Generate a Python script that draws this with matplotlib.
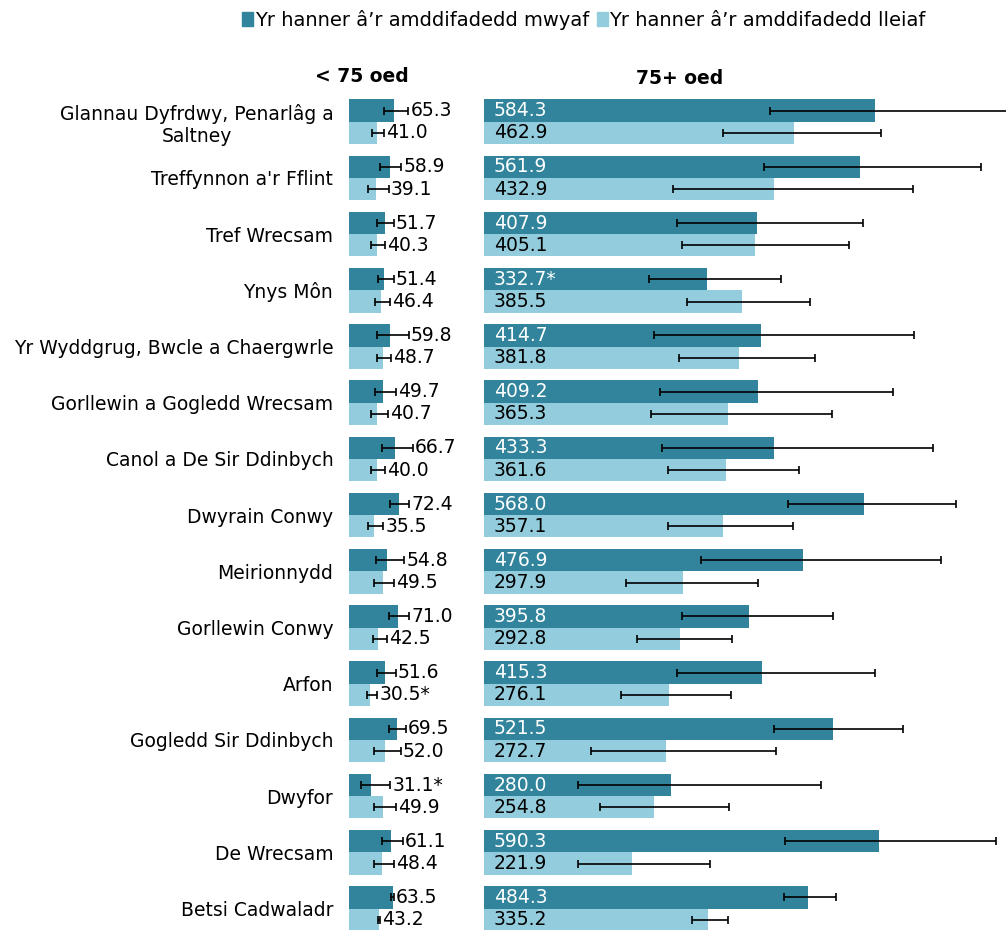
import numpy as np
import matplotlib
matplotlib.use("Agg")
import matplotlib.pyplot as plt
from matplotlib.patches import Patch

# data
areas = ["Glannau Dyfrdwy, Penarlâg a\nSaltney", "Treffynnon a'r Fflint", "Tref Wrecsam",
         "Ynys Môn", "Yr Wyddgrug, Bwcle a Chaergwrle", "Gorllewin a Gogledd Wrecsam",
         "Canol a De Sir Ddinbych", "Dwyrain Conwy", "Meirionnydd", "Gorllewin Conwy",
         "Arfon", "Gogledd Sir Ddinbych", "Dwyfor", "De Wrecsam", "Betsi Cadwaladr"]

# < 75 oed
u75_most = [65.3, 58.9, 51.7, 51.4, 59.8, 49.7, 66.7, 72.4, 54.8, 71.0, 51.6, 69.5, 31.1, 61.1, 63.5]
u75_most_lo = [51.2, 45.4, 40.0, 42.4, 40.5, 37.1, 47.4, 59.0, 38.6, 57.6, 40.0, 58.5, 16.6, 47.3, 61.5]
u75_most_hi = [86.3, 76.0, 64.9, 64.9, 86.8, 68.3, 92.7, 87.3, 80.0, 87.7, 67.8, 82.9, 59.5, 78.0, 65.5]
u75_least = [41.0, 39.1, 40.3, 46.4, 48.7, 40.7, 40.0, 35.5, 49.5, 42.5, 30.5, 52.0, 49.9, 48.4, 43.2]
u75_least_lo = [32.7, 26.9, 31.3, 37.1, 40.5, 31.3, 31.3, 26.9, 36.6, 34.2, 25.4, 36.6, 36.6, 36.6, 41.5]
u75_least_hi = [51.2, 58.0, 52.7, 60.0, 60.5, 56.6, 52.6, 49.7, 65.8, 55.1, 41.0, 75.1, 68.3, 64.9, 45.0]
u75_most_lbl = ["65.3", "58.9", "51.7", "51.4", "59.8", "49.7", "66.7", "72.4", "54.8", "71.0",
                "51.6", "69.5", "31.1*", "61.1", "63.5"]
u75_least_lbl = ["41.0", "39.1", "40.3", "46.4", "48.7", "40.7", "40.0", "35.5", "49.5", "42.5",
                 "30.5*", "52.0", "49.9", "48.4", "43.2"]

# 75+ oed
o75_most = [584.3, 561.9, 407.9, 332.7, 414.7, 409.2, 433.3, 568.0, 476.9, 395.8, 415.3, 521.5, 280.0, 590.3, 484.3]
o75_most_lo = [427.5, 418.5, 288.0, 247.1, 254.1, 263.6, 265.6, 453.9, 323.9, 295.5, 288.0, 433.5, 141.0, 450.4, 448.4]
o75_most_hi = [800.0, 742.9, 566.0, 443.5, 643.3, 611.4, 671.7, 705.5, 683.1, 522.2, 584.5, 626.3, 503.2, 765.8, 526.2]
o75_least = [462.9, 432.9, 405.1, 385.5, 381.8, 365.3, 361.6, 357.1, 297.9, 292.8, 276.1, 272.7, 254.8, 221.9, 335.2]
o75_least_lo = [357.7, 282.5, 295.5, 303.4, 292.0, 250.1, 274.5, 275.0, 212.3, 229.2, 204.8, 159.4, 172.9, 141.0, 310.9]
o75_least_hi = [593.9, 641.3, 545.0, 486.8, 494.3, 520.7, 471.4, 461.9, 409.1, 371.2, 369.2, 437.0, 365.7, 337.8, 364.3]
o75_most_lbl = ["584.3", "561.9", "407.9", "332.7*", "414.7", "409.2", "433.3", "568.0", "476.9", "395.8",
                "415.3", "521.5", "280.0", "590.3", "484.3"]
o75_least_lbl = ["462.9", "432.9", "405.1", "385.5", "381.8", "365.3", "361.6", "357.1", "297.9", "292.8",
                 "276.1", "272.7", "254.8", "221.9", "335.2"]

legend_labels = ["Yr hanner â’r amddifadedd mwyaf", "Yr hanner â’r amddifadedd lleiaf"]

dark = "#31849b"
light = "#93cddd"
fs = 13.5
plt.rcParams['font.family'] = ['DejaVu Sans']

W, H = 1006, 930
fig = plt.figure(figsize=(W / 100, H / 100), dpi=100)

ax_l = fig.add_axes([349.3 / W, 0, (480 - 349.3) / W, 837 / H])
ax_r = fig.add_axes([484 / W, 0, (W - 484) / W, 837 / H])

y = np.arange(len(areas))
h = 0.397
y_dark = y - h / 2
y_light = y + h / 2


def draw_panel(ax, most, most_lo, most_hi, least, least_lo, least_hi):
    most = np.array(most); least = np.array(least)
    ax.barh(y_dark, most, height=h, color=dark)
    ax.barh(y_light, least, height=h, color=light)
    ekw = dict(fmt='none', ecolor='black', elinewidth=1.2, capsize=3, capthick=1.2)
    ax.errorbar(most, y_dark, xerr=[most - np.array(most_lo), np.array(most_hi) - most], **ekw)
    ax.errorbar(least, y_light, xerr=[least - np.array(least_lo), np.array(least_hi) - least], **ekw)
    ax.set_ylim(14.381, -0.512)
    for s in ax.spines.values():
        s.set_visible(False)
    ax.set_xticks([])


draw_panel(ax_l, u75_most, u75_most_lo, u75_most_hi, u75_least, u75_least_lo, u75_least_hi)
draw_panel(ax_r, o75_most, o75_most_lo, o75_most_hi, o75_least, o75_least_lo, o75_least_hi)
ax_l.set_xlim(0, (480 - 349.3) / 0.684)
ax_r.set_xlim(0, (W - 484) / 0.669)

# category labels
ax_l.set_yticks(y)
ax_l.set_yticklabels(areas, fontsize=fs)
ax_l.tick_params(axis='y', length=0, pad=11.5)
for t in ax_l.get_yticklabels():
    t.set_multialignment('center')
ax_r.set_yticks([])

# value labels, left panel: just past the error bar
for i in range(len(areas)):
    ax_l.annotate(u75_most_lbl[i], (u75_most_hi[i], y_dark[i]), xytext=(1.5, 0),
                  textcoords='offset points', va='center', ha='left', fontsize=fs, annotation_clip=False)
    ax_l.annotate(u75_least_lbl[i], (u75_least_hi[i], y_light[i]), xytext=(1.5, 0),
                  textcoords='offset points', va='center', ha='left', fontsize=fs, annotation_clip=False)
    # right panel: inside the bar
    ax_r.annotate(o75_most_lbl[i], (0, y_dark[i]), xytext=(7, 0), textcoords='offset points',
                  va='center', ha='left', fontsize=fs, color='white')
    ax_r.annotate(o75_least_lbl[i], (0, y_light[i]), xytext=(7, 0), textcoords='offset points',
                  va='center', ha='left', fontsize=fs, color='black')

# panel titles
fig.text(362 / W, 1 - 77 / H, "< 75 oed", ha='center', va='center', fontsize=fs, fontweight='bold')
fig.text(680 / W, 1 - 78 / H, "75+ oed", ha='center', va='center', fontsize=fs, fontweight='bold')

# legend
handles = [Patch(color=dark), Patch(color=light)]
fig.legend(handles, legend_labels, loc='center', bbox_to_anchor=(584 / W, 1 - 20 / H), ncol=2,
           frameon=False, fontsize=14, handlelength=0.55, handleheight=0.7, handletextpad=0.1,
           columnspacing=0.4, borderpad=0)

fig.savefig("out.png", dpi=100)
